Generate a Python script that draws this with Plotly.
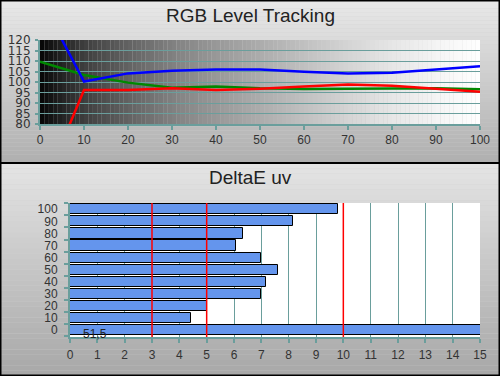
import plotly.graph_objects as go

# ---------------- data ----------------
levels = [0, 10, 20, 30, 40, 50, 60, 70, 80, 90, 100]
red = [46, 96.2, 96.2, 97.0, 96.2, 96.8, 97.8, 98.8, 98.2, 96.8, 95.4]
green = [109.7, 103.3, 99.7, 97.3, 97.8, 97.0, 96.7, 96.9, 96.9, 97.0, 96.5]
blue = [140, 100.2, 104.1, 105.4, 105.9, 106.0, 104.9, 104.1, 104.4, 106.0, 107.5]

de_levels = [0, 10, 20, 30, 40, 50, 60, 70, 80, 90, 100]
de_values = [51.5, 4.44, 5.01, 6.99, 7.17, 7.62, 6.99, 6.07, 6.34, 8.17, 9.82]
de_ticklabels = ["0", "10", "20", "30", "40", "50", "60", "70", "80", "90", "100"]
ref_lines = [3, 5, 10]

W, H = 500, 376
TEAL = "#6a9e9c"
FONT = "Liberation Sans, Arial, sans-serif"

def px_x(p):
    return p / W

def px_y(p):
    return 1 - p / H

shapes = []

def panel_gradient(y0, y1, c_top, c_bot, n=40):
    for i in range(n):
        t = i / (n - 1)
        g = round(c_top + (c_bot - c_top) * t)
        ya = y0 + (y1 - y0) * i / n
        yb = y0 + (y1 - y0) * (i + 1) / n
        shapes.append(dict(type="rect", xref="paper", yref="paper",
                           x0=0, x1=1, y0=px_y(yb), y1=px_y(ya),
                           fillcolor=f"rgb({g},{g},{g})", line_width=0, layer="below"))

panel_gradient(0, 163, 232, 176)
panel_gradient(163, 376, 228, 168)

grad_stops = [(0, 5), (5, 35), (10, 62), (20, 98), (30, 128), (40, 152), (50, 172),
              (60, 192), (70, 212), (80, 230), (90, 244), (100, 255)]
def grad_at(x):
    for (xa, ga), (xb, gb) in zip(grad_stops[:-1], grad_stops[1:]):
        if xa <= x <= xb:
            return ga + (gb - ga) * (x - xa) / (xb - xa)
    return 255
for i in range(100):
    g = round(grad_at(i + 0.5))
    shapes.append(dict(type="rect", xref="x", yref="y domain", x0=i, x1=i + 1.02,
                       y0=0, y1=1, fillcolor=f"rgb({g},{g},{g})", line_width=0, layer="below"))

shapes.append(dict(type="rect", xref="x2 domain", yref="y2 domain", x0=0, x1=1, y0=0, y1=1,
                   fillcolor="white", line_width=0, layer="below"))

for v in ref_lines:
    shapes.append(dict(type="line", xref="x2", yref="y2 domain", x0=v, x1=v, y0=0, y1=1,
                       line=dict(color="#ff0000", width=1.5), layer="above"))

shapes.append(dict(type="rect", xref="paper", yref="paper", x0=0, x1=1, y0=0, y1=1,
                   line=dict(color="black", width=3), fillcolor="rgba(0,0,0,0)", layer="above"))
shapes.append(dict(type="line", xref="paper", yref="paper", x0=0, x1=1,
                   y0=px_y(163), y1=px_y(163), line=dict(color="black", width=2), layer="above"))

fig = go.Figure()

for vals, col in [(green, "#008800"), (red, "#ff0000"), (blue, "#0000ff")]:
    fig.add_trace(go.Scatter(x=levels, y=vals, mode="lines", line=dict(color=col, width=2.5),
                             xaxis="x", yaxis="y", showlegend=False, hoverinfo="skip"))

fig.add_trace(go.Bar(x=de_values, y=de_levels, orientation="h", width=8.4,
                     marker=dict(color="#6495ed", line=dict(color="black", width=1)),
                     xaxis="x2", yaxis="y2", showlegend=False, hoverinfo="skip"))

annotations = [
    dict(text="RGB Level Tracking", xref="paper", yref="paper", x=0.5, y=px_y(16),
         showarrow=False, font=dict(family=FONT, size=19, color="#222"), yanchor="middle"),
    dict(text="DeltaE uv", xref="paper", yref="paper", x=0.5, y=px_y(177),
         showarrow=False, font=dict(family=FONT, size=19, color="#222"), yanchor="middle"),
    dict(text=f"{de_values[0]}".replace(".", ","), xref="x2", yref="y2", x=0.4, y=de_levels[0],
         xanchor="left", yanchor="middle", yshift=-4, showarrow=False,
         font=dict(family=FONT, size=12, color="#222")),
]

fig.update_layout(
    width=W, height=H, margin=dict(l=0, r=0, t=0, b=0),
    paper_bgcolor="#d0d0d0", plot_bgcolor="rgba(0,0,0,0)",
    shapes=shapes, annotations=annotations, bargap=0,
    xaxis=dict(domain=[px_x(40), px_x(480)], anchor="y", range=[0, 100], tickvals=levels,
               showgrid=False, showline=True, linecolor=TEAL, linewidth=2,
               ticks="outside", ticklen=4, tickwidth=2, tickcolor=TEAL,
               tickfont=dict(family=FONT, size=12, color="#333"), ticklabelstandoff=0,
               zeroline=False, fixedrange=True, automargin=False),
    yaxis=dict(domain=[px_y(124), px_y(40)], anchor="x", range=[80, 120], dtick=5,
               showgrid=True, gridcolor=TEAL, gridwidth=1,
               showline=True, linecolor=TEAL, linewidth=2,
               ticks="outside", ticklen=3, tickwidth=2, tickcolor=TEAL,
               tickfont=dict(family="DejaVu Sans", size=12, color="#333"), ticklabelstandoff=2,
               zeroline=False, fixedrange=True, automargin=False),
    xaxis2=dict(domain=[px_x(70), px_x(480)], anchor="y2", range=[0, 15], dtick=1,
                showgrid=True, gridcolor=TEAL, gridwidth=1,
                showline=True, linecolor=TEAL, linewidth=2,
                ticks="outside", ticklen=4, tickwidth=2, tickcolor=TEAL,
                tickfont=dict(family=FONT, size=12, color="#333"), ticklabelstandoff=2,
                zeroline=False, fixedrange=True, automargin=False),
    yaxis2=dict(domain=[px_y(337), px_y(203)], anchor="x2", range=[-5.6, 105.2],
                tickvals=de_levels, ticktext=de_ticklabels, ticks="",
                showgrid=False, showline=True, linecolor=TEAL, linewidth=2,
                minor=dict(tickvals=[-5 + 10 * i for i in range(12)], ticks="outside",
                           ticklen=4, tickwidth=2, tickcolor=TEAL, showgrid=False),
                tickfont=dict(family=FONT, size=12, color="#333"), ticklabelstandoff=8,
                zeroline=False, fixedrange=True, automargin=False),
)

fig.write_html("out.html", config={"displayModeBar": False},
               post_script="document.body.style.margin='0';document.body.style.overflow='hidden';")
